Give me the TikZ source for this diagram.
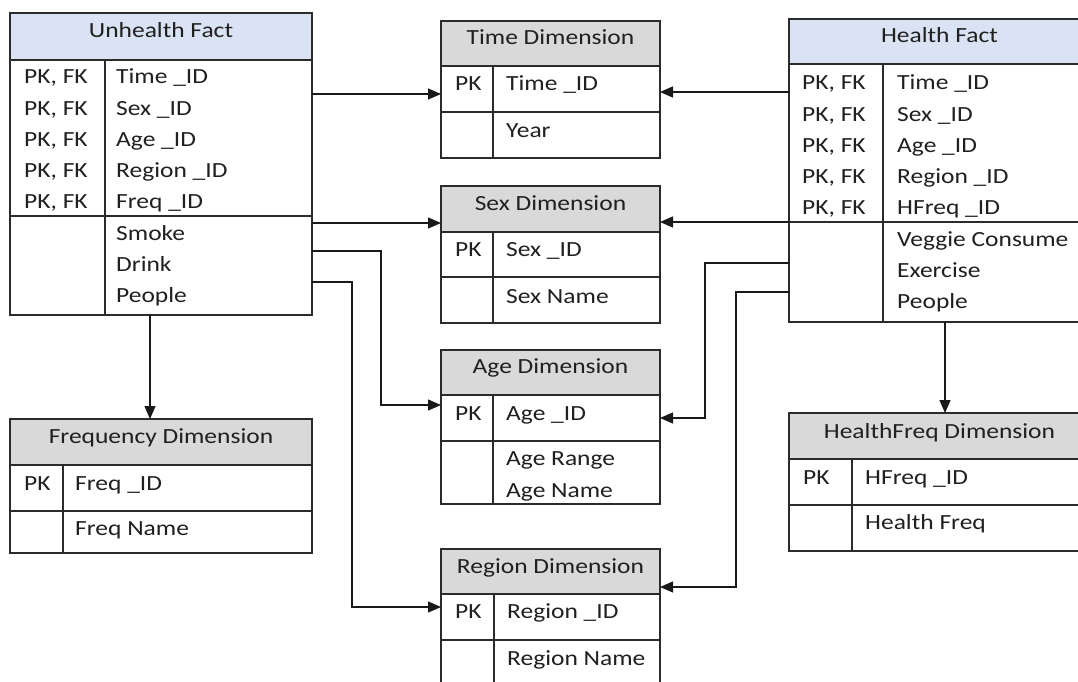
\documentclass[tikz,border=0pt]{standalone}
\usepackage{fontspec}
\setmainfont{Carlito}[FakeStretch=1.18]
\usetikzlibrary{arrows.meta}
\definecolor{facthd}{HTML}{DAE3F3}
\definecolor{dimhd}{HTML}{D9D9D9}
\definecolor{ink}{HTML}{202020}
\definecolor{rule}{HTML}{2B2B2B}
\tikzset{
  frame/.style={draw=rule, line width=1.4pt, inner sep=0pt, outer sep=0pt, anchor=north west},
  facthead/.style={frame, fill=facthd},
  dimhead/.style={frame, fill=dimhd},
  body/.style={frame, fill=white},
  grid/.style={draw=rule, line width=1.4pt},
  title/.style={font=\fontsize{21.6}{25}\selectfont, text=ink, anchor=base, inner sep=0pt},
  cell/.style={font=\fontsize{21.6}{25}\selectfont, text=ink, anchor=base west, inner sep=0pt},
  rel/.style={draw=black!90, line width=1.2pt, -{Triangle[length=13pt,width=11pt]}},
}
\begin{document}
\begin{tikzpicture}[x=1pt,y=-1pt]
\useasboundingbox (0,0) rectangle (1078,682);
\clip (0,0) rectangle (1078,682);

% ---------- Unhealth Fact ----------
\node[facthead, minimum width=302pt, minimum height=47pt] (ufh) at (10,13) {};
\node[body, minimum width=302pt, minimum height=255pt] (ufb) at (10,60) {};
\node[title] (uft) at ([yshift=-25pt]ufh.north) {Unhealth Fact};
\draw[grid] ([xshift=95pt]ufb.north west) -- ([xshift=95pt]ufb.south west);
\draw[grid] ([yshift=-156pt]ufb.north west) -- ([yshift=-156pt]ufb.north east);
\foreach \t [count=\i from 0] in {Time \_ID, Sex \_ID, Age \_ID, Region \_ID, Freq \_ID, Smoke, Drink, People}
  \node[cell] (uf-f\i) at ([xshift=106pt, yshift={-(24+31.2*\i)*1pt}]ufb.north west) {\t};
\foreach \i in {0,...,4}
  \node[cell] (uf-k\i) at ([xshift=14pt, yshift={-(24+31.2*\i)*1pt}]ufb.north west) {PK, FK};

% ---------- Health Fact ----------
\node[facthead, minimum width=301pt, minimum height=45pt] (hfh) at (789,19) {};
\node[body, minimum width=301pt, minimum height=258pt] (hfb) at (789,64) {};
\node[title] (hft) at ([yshift=-24pt]hfh.north) {Health Fact};
\draw[grid] ([xshift=94pt]hfb.north west) -- ([xshift=94pt]hfb.south west);
\draw[grid] ([yshift=-158pt]hfb.north west) -- ([yshift=-158pt]hfb.north east);
\foreach \t [count=\i from 0] in {Time \_ID, Sex \_ID, Age \_ID, Region \_ID, HFreq \_ID, Veggie Consume, Exercise, People}
  \node[cell] (hf-f\i) at ([xshift=108pt, yshift={-(26+31.2*\i)*1pt}]hfb.north west) {\t};
\foreach \i in {0,...,4}
  \node[cell] (hf-k\i) at ([xshift=13pt, yshift={-(26+31.2*\i)*1pt}]hfb.north west) {PK, FK};

% ---------- Time Dimension ----------
\node[dimhead, minimum width=219pt, minimum height=45pt] (tdh) at (441,21) {};
\node[body, minimum width=219pt, minimum height=92pt] (tdb) at (441,66) {};
\node[title] (tdt) at ([yshift=-24pt]tdh.north) {Time Dimension};
\draw[grid] ([xshift=52pt]tdb.north west) -- ([xshift=52pt]tdb.south west);
\draw[grid] ([yshift=-46pt]tdb.north west) -- ([yshift=-46pt]tdb.north east);
\node[cell] (td-k) at ([xshift=14pt, yshift=-25pt]tdb.north west) {PK};
\node[cell] (td-f0) at ([xshift=65pt, yshift=-25pt]tdb.north west) {Time \_ID};
\node[cell] (td-f1) at ([xshift=65pt, yshift=-71pt]tdb.north west) {Year};

% ---------- Sex Dimension ----------
\node[dimhead, minimum width=219pt, minimum height=46pt] (sdh) at (441,186) {};
\node[body, minimum width=219pt, minimum height=91pt] (sdb) at (441,232) {};
\node[title] (sdt) at ([yshift=-24pt]sdh.north) {Sex Dimension};
\draw[grid] ([xshift=52pt]sdb.north west) -- ([xshift=52pt]sdb.south west);
\draw[grid] ([yshift=-45pt]sdb.north west) -- ([yshift=-45pt]sdb.north east);
\node[cell] (sd-k) at ([xshift=14pt, yshift=-24pt]sdb.north west) {PK};
\node[cell] (sd-f0) at ([xshift=65pt, yshift=-24pt]sdb.north west) {Sex \_ID};
\node[cell] (sd-f1) at ([xshift=65pt, yshift=-71pt]sdb.north west) {Sex Name};

% ---------- Age Dimension ----------
\node[dimhead, minimum width=219pt, minimum height=45pt] (adh) at (441,350) {};
\node[body, minimum width=219pt, minimum height=109pt] (adb) at (441,395) {};
\node[title] (adt) at ([yshift=-23pt]adh.north) {Age Dimension};
\draw[grid] ([xshift=52pt]adb.north west) -- ([xshift=52pt]adb.south west);
\draw[grid] ([yshift=-46pt]adb.north west) -- ([yshift=-46pt]adb.north east);
\node[cell] (ad-k) at ([xshift=14pt, yshift=-25pt]adb.north west) {PK};
\node[cell] (ad-f0) at ([xshift=65pt, yshift=-25pt]adb.north west) {Age \_ID};
\node[cell] (ad-f1) at ([xshift=65pt, yshift=-70pt]adb.north west) {Age Range};
\node[cell] (ad-f2) at ([xshift=65pt, yshift=-102pt]adb.north west) {Age Name};

% ---------- Region Dimension ----------
\node[dimhead, minimum width=219pt, minimum height=45pt] (rdh) at (441,549) {};
\node[body, minimum width=219pt, minimum height=110pt] (rdb) at (441,594) {};
\node[title] (rdt) at ([yshift=-24pt]rdh.north) {Region Dimension};
\draw[grid] ([xshift=53pt]rdb.north west) -- ([xshift=53pt]rdb.south west);
\draw[grid] ([yshift=-46pt]rdb.north west) -- ([yshift=-46pt]rdb.north east);
\node[cell] (rd-k) at ([xshift=14pt, yshift=-24pt]rdb.north west) {PK};
\node[cell] (rd-f0) at ([xshift=66pt, yshift=-24pt]rdb.north west) {Region \_ID};
\node[cell] (rd-f1) at ([xshift=66pt, yshift=-71pt]rdb.north west) {Region Name};

% ---------- Frequency Dimension ----------
\node[dimhead, minimum width=302pt, minimum height=46pt] (fdh) at (10,419) {};
\node[body, minimum width=302pt, minimum height=88pt] (fdb) at (10,465) {};
\node[title] (fdt) at ([yshift=-24pt]fdh.north) {Frequency Dimension};
\draw[grid] ([xshift=53pt]fdb.north west) -- ([xshift=53pt]fdb.south west);
\draw[grid] ([yshift=-46pt]fdb.north west) -- ([yshift=-46pt]fdb.north east);
\node[cell] (fd-k) at ([xshift=14pt, yshift=-25pt]fdb.north west) {PK};
\node[cell] (fd-f0) at ([xshift=65pt, yshift=-25pt]fdb.north west) {Freq \_ID};
\node[cell] (fd-f1) at ([xshift=65pt, yshift=-70pt]fdb.north west) {Freq Name};

% ---------- HealthFreq Dimension ----------
\node[dimhead, minimum width=301pt, minimum height=46pt] (hdh) at (789,413) {};
\node[body, minimum width=301pt, minimum height=92pt] (hdb) at (789,459) {};
\node[title] (hdt) at ([yshift=-25pt]hdh.north) {HealthFreq Dimension};
\draw[grid] ([xshift=63pt]hdb.north west) -- ([xshift=63pt]hdb.south west);
\draw[grid] ([yshift=-46pt]hdb.north west) -- ([yshift=-46pt]hdb.north east);
\node[cell] (hd-k) at ([xshift=14pt, yshift=-25pt]hdb.north west) {PK};
\node[cell] (hd-f0) at ([xshift=76pt, yshift=-25pt]hdb.north west) {HFreq \_ID};
\node[cell] (hd-f1) at ([xshift=76pt, yshift=-70pt]hdb.north west) {Health Freq};

% ---------- relationships: Unhealth Fact ----------
\draw[rel] ([yshift=-34pt]ufb.north east) -- ([yshift=-34pt]ufb.north east -| tdb.west);
\draw[rel] ([yshift=-163pt]ufb.north east) -- ([yshift=-163pt]ufb.north east -| sdh.west);
\draw[rel] ([yshift=-191pt]ufb.north east) -| ([xshift=69pt,yshift=-10pt]ufb.east |- adb.north)
  -- ([yshift=-10pt]adb.north west);
\draw[rel] ([yshift=-222pt]ufb.north east) -| ([xshift=40pt,yshift=-13pt]ufb.east |- rdb.north)
  -- ([yshift=-13pt]rdb.north west);
\draw[rel] ([xshift=140pt]ufb.south west) -- ([xshift=140pt]fdh.north west);

% ---------- relationships: Health Fact ----------
\draw[rel] ([yshift=-28pt]hfb.north west) -- ([yshift=-28pt]hfb.north west -| tdb.east);
\draw[rel] ([yshift=-158pt]hfb.north west) -- ([yshift=-158pt]hfb.north west -| sdh.east);
\draw[rel] ([yshift=-199pt]hfb.north west) -| ([xshift=-84pt,yshift=-23pt]hfb.west |- adb.north)
  -- ([yshift=-23pt]adb.north east);
\draw[rel] ([yshift=-228pt]hfb.north west) -| ([xshift=-53pt,yshift=-38pt]hfb.west |- rdh.north)
  -- ([yshift=-38pt]rdh.north east);
\draw[rel] ([xshift=156pt]hfb.south west) -- ([xshift=156pt]hdh.north west);
\end{tikzpicture}
\end{document}
